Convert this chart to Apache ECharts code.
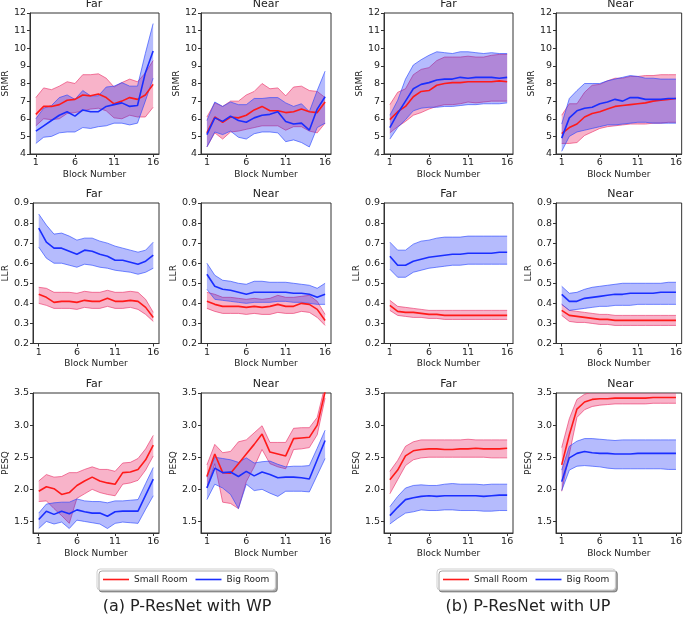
<!DOCTYPE html>
<html>
<head>
<meta charset="utf-8">
<script src="https://cdn.jsdelivr.net/npm/echarts@6/dist/echarts.min.js"></script>
<style>
  html, body { margin: 0; padding: 0; background: #fff; }
  #chart { width: 685px; height: 622px; }
</style>
</head>
<body>
<div id="chart"></div>
<script>
// x positions
const blocks = [1, 2, 3, 4, 5, 6, 7, 8, 9, 10, 11, 12, 13, 14, 15, 16];
const xTicks = [1, 6, 11, 16];
const srmrTicks = [4, 5, 6, 7, 8, 9, 10, 11, 12];
const llrTicks = [0.2, 0.3, 0.4, 0.5, 0.6, 0.7, 0.8, 0.9];
const pesqTicks = [1.5, 2.0, 2.5, 3.0, 3.5];

// ---- (a) WP ----
// SRMR Far
const wpSrmrFarSmall = [6.25, 6.7, 6.7, 6.8, 7.05, 7.1, 7.35, 7.3, 7.4, 7.2, 6.85, 7.0, 7.2, 7.1, 7.35, 7.95];
const wpSrmrFarSmallLo = [5.6, 6.0, 5.95, 6.0, 6.3, 6.35, 6.45, 6.55, 6.6, 6.45, 6.05, 6.0, 6.2, 6.1, 6.1, 6.65];
const wpSrmrFarSmallHi = [7.2, 7.75, 7.65, 7.85, 8.1, 8.0, 8.5, 8.5, 8.55, 8.3, 7.8, 8.05, 8.25, 8.1, 8.6, 9.3];
const wpSrmrFarBig = [5.3, 5.6, 5.9, 6.2, 6.4, 6.15, 6.5, 6.4, 6.4, 6.7, 6.8, 6.9, 6.7, 6.75, 8.6, 9.85];
const wpSrmrFarBigLo = [4.6, 4.95, 5.0, 5.2, 5.25, 5.25, 5.5, 5.45, 5.55, 5.6, 5.75, 5.75, 5.65, 5.75, 7.0, 8.3];
const wpSrmrFarBigHi = [6.0, 6.6, 6.75, 7.2, 7.35, 7.1, 7.6, 7.3, 7.3, 7.8, 7.85, 8.05, 7.85, 7.85, 9.7, 11.4];
// SRMR Near
const wpSrmrNearSmall = [5.2, 6.1, 5.8, 6.1, 6.05, 6.2, 6.5, 6.7, 6.45, 6.45, 6.35, 6.4, 6.55, 6.4, 6.35, 6.95];
const wpSrmrNearSmallLo = [4.4, 5.2, 4.85, 5.25, 5.3, 5.4, 5.5, 5.6, 5.6, 5.6, 5.35, 5.55, 5.55, 5.3, 5.2, 5.75];
const wpSrmrNearSmallHi = [6.1, 6.9, 6.7, 7.0, 7.0, 7.35, 7.55, 8.0, 7.7, 7.75, 7.3, 7.8, 7.85, 7.6, 7.55, 7.2];
const wpSrmrNearBig = [5.1, 6.05, 5.85, 6.15, 5.9, 5.8, 6.05, 6.2, 6.25, 6.4, 5.85, 5.7, 5.75, 5.35, 6.55, 7.25];
const wpSrmrNearBigLo = [4.4, 5.25, 5.1, 5.3, 4.95, 4.85, 5.15, 5.25, 5.25, 5.2, 4.7, 4.8, 4.65, 4.4, 5.5, 5.75];
const wpSrmrNearBigHi = [5.9, 6.95, 6.7, 6.95, 6.8, 6.8, 7.15, 7.15, 7.2, 7.2, 6.9, 6.7, 6.85, 6.4, 7.6, 8.7];
// LLR Far
const wpLlrFarSmall = [0.445, 0.43, 0.405, 0.41, 0.41, 0.405, 0.415, 0.41, 0.41, 0.425, 0.41, 0.41, 0.415, 0.41, 0.38, 0.33];
const wpLlrFarSmallLo = [0.40, 0.39, 0.375, 0.375, 0.375, 0.37, 0.38, 0.375, 0.375, 0.385, 0.375, 0.375, 0.38, 0.37, 0.345, 0.31];
const wpLlrFarSmallHi = [0.48, 0.475, 0.455, 0.455, 0.455, 0.45, 0.46, 0.455, 0.455, 0.465, 0.455, 0.455, 0.46, 0.455, 0.42, 0.355];
const wpLlrFarBig = [0.775, 0.705, 0.675, 0.675, 0.66, 0.645, 0.665, 0.66, 0.645, 0.635, 0.615, 0.615, 0.605, 0.595, 0.61, 0.64];
const wpLlrFarBigLo = [0.68, 0.625, 0.60, 0.60, 0.59, 0.58, 0.595, 0.59, 0.58, 0.575, 0.565, 0.56, 0.555, 0.545, 0.555, 0.575];
const wpLlrFarBigHi = [0.845, 0.79, 0.745, 0.75, 0.735, 0.715, 0.725, 0.725, 0.71, 0.70, 0.685, 0.675, 0.665, 0.655, 0.665, 0.705];
// LLR Near
const wpLlrNearSmall = [0.41, 0.395, 0.385, 0.385, 0.385, 0.38, 0.385, 0.38, 0.385, 0.395, 0.385, 0.385, 0.40, 0.395, 0.37, 0.315];
const wpLlrNearSmallLo = [0.375, 0.36, 0.35, 0.35, 0.35, 0.345, 0.35, 0.345, 0.345, 0.355, 0.35, 0.35, 0.36, 0.355, 0.33, 0.29];
const wpLlrNearSmallHi = [0.455, 0.445, 0.43, 0.43, 0.425, 0.42, 0.425, 0.42, 0.425, 0.44, 0.43, 0.43, 0.435, 0.44, 0.41, 0.345];
const wpLlrNearBig = [0.545, 0.485, 0.47, 0.465, 0.455, 0.445, 0.455, 0.455, 0.455, 0.455, 0.455, 0.45, 0.45, 0.445, 0.43, 0.445];
const wpLlrNearBigLo = [0.47, 0.42, 0.415, 0.41, 0.405, 0.40, 0.405, 0.405, 0.405, 0.41, 0.41, 0.405, 0.405, 0.40, 0.395, 0.395];
const wpLlrNearBigHi = [0.60, 0.54, 0.515, 0.51, 0.50, 0.495, 0.51, 0.51, 0.505, 0.505, 0.505, 0.50, 0.495, 0.49, 0.475, 0.50];
// PESQ Far
const wpPesqFarSmall = [1.97, 2.04, 2.01, 1.92, 1.95, 2.06, 2.13, 2.19, 2.13, 2.10, 2.08, 2.26, 2.27, 2.31, 2.46, 2.69];
const wpPesqFarSmallLo = [1.81, 1.82, 1.70, 1.59, 1.47, 1.86, 1.93, 2.00, 1.95, 1.92, 1.90, 2.08, 2.10, 2.14, 2.30, 2.52];
const wpPesqFarSmallHi = [2.13, 2.23, 2.19, 2.20, 2.26, 2.26, 2.31, 2.35, 2.31, 2.31, 2.28, 2.41, 2.42, 2.48, 2.63, 2.84];
const wpPesqFarBig = [1.53, 1.66, 1.61, 1.66, 1.62, 1.68, 1.65, 1.63, 1.63, 1.58, 1.65, 1.66, 1.66, 1.66, 1.91, 2.16];
const wpPesqFarBigLo = [1.39, 1.50, 1.46, 1.49, 1.39, 1.52, 1.50, 1.48, 1.46, 1.39, 1.47, 1.49, 1.48, 1.47, 1.69, 1.90];
const wpPesqFarBigHi = [1.63, 1.77, 1.79, 1.80, 1.80, 1.85, 1.82, 1.81, 1.81, 1.79, 1.82, 1.82, 1.83, 1.84, 2.09, 2.34];
// PESQ Near
const wpPesqNearSmall = [2.20, 2.55, 2.26, 2.25, 2.40, 2.55, 2.70, 2.86, 2.58, 2.55, 2.52, 2.79, 2.80, 2.81, 3.00, 3.52];
const wpPesqNearSmallLo = [2.03, 2.40, 1.80, 1.78, 1.70, 2.12, 2.35, 2.62, 2.40, 2.35, 2.32, 2.62, 2.63, 2.65, 2.85, 3.42];
const wpPesqNearSmallHi = [2.38, 2.70, 2.57, 2.59, 2.74, 2.77, 2.88, 2.99, 2.73, 2.73, 2.73, 2.95, 2.96, 2.96, 3.12, 3.62];
const wpPesqNearBig = [2.02, 2.33, 2.26, 2.27, 2.20, 2.28, 2.21, 2.27, 2.23, 2.18, 2.19, 2.19, 2.18, 2.16, 2.46, 2.76];
const wpPesqNearBigLo = [1.84, 2.08, 2.02, 1.92, 1.70, 2.08, 1.98, 2.00, 1.94, 1.89, 1.97, 1.97, 1.97, 1.96, 2.22, 2.48];
const wpPesqNearBigHi = [2.19, 2.50, 2.48, 2.46, 2.42, 2.49, 2.41, 2.43, 2.44, 2.39, 2.35, 2.36, 2.36, 2.37, 2.64, 2.92];

// ---- (b) UP ----
// SRMR Far
const upSrmrFarSmall = [5.95, 6.4, 6.7, 7.25, 7.55, 7.6, 7.9, 8.0, 8.05, 8.05, 8.1, 8.1, 8.1, 8.1, 8.15, 8.1];
const upSrmrFarSmallLo = [5.2, 5.55, 5.85, 6.2, 6.35, 6.55, 6.7, 6.8, 6.8, 6.85, 6.95, 6.9, 6.95, 7.0, 7.0, 7.0];
const upSrmrFarSmallHi = [6.8, 7.5, 7.7, 8.5, 8.8, 8.9, 9.3, 9.5, 9.5, 9.5, 9.55, 9.5, 9.5, 9.6, 9.65, 9.65];
const upSrmrFarBig = [5.5, 6.3, 7.0, 7.7, 7.95, 8.05, 8.2, 8.25, 8.25, 8.35, 8.3, 8.35, 8.35, 8.35, 8.3, 8.35];
const upSrmrFarBigLo = [4.85, 5.5, 5.95, 6.45, 6.6, 6.65, 6.65, 6.7, 6.7, 6.75, 6.8, 6.8, 6.85, 6.85, 6.85, 6.9];
const upSrmrFarBigHi = [6.2, 7.05, 8.25, 9.05, 9.35, 9.6, 9.8, 9.75, 9.7, 9.8, 9.8, 9.75, 9.7, 9.75, 9.7, 9.7];
// SRMR Near
const upSrmrNearSmall = [5.15, 5.5, 5.7, 6.1, 6.3, 6.4, 6.55, 6.7, 6.75, 6.8, 6.85, 6.9, 7.0, 7.05, 7.1, 7.15];
const upSrmrNearSmallLo = [4.6, 4.6, 4.65, 5.05, 5.25, 5.45, 5.55, 5.6, 5.65, 5.7, 5.7, 5.7, 5.75, 5.75, 5.8, 5.8];
const upSrmrNearSmallHi = [6.2, 6.85, 6.85, 7.5, 7.9, 7.95, 8.15, 8.3, 8.3, 8.4, 8.4, 8.45, 8.45, 8.5, 8.5, 8.5];
const upSrmrNearBig = [4.9, 6.05, 6.45, 6.6, 6.65, 6.85, 6.95, 7.1, 7.0, 7.2, 7.2, 7.1, 7.1, 7.1, 7.15, 7.15];
const upSrmrNearBigLo = [4.15, 5.0, 5.25, 5.35, 5.45, 5.55, 5.65, 5.65, 5.7, 5.75, 5.8, 5.8, 5.75, 5.75, 5.75, 5.75];
const upSrmrNearBigHi = [5.7, 7.15, 7.6, 8.0, 8.0, 8.0, 8.15, 8.25, 8.35, 8.45, 8.4, 8.3, 8.3, 8.25, 8.25, 8.25];
// LLR Far
const upLlrFarSmall = [0.39, 0.36, 0.355, 0.355, 0.35, 0.345, 0.345, 0.34, 0.34, 0.34, 0.34, 0.34, 0.34, 0.34, 0.34, 0.34];
const upLlrFarSmallLo = [0.365, 0.34, 0.335, 0.33, 0.33, 0.325, 0.325, 0.32, 0.32, 0.32, 0.32, 0.32, 0.32, 0.32, 0.32, 0.32];
const upLlrFarSmallHi = [0.415, 0.385, 0.38, 0.375, 0.37, 0.365, 0.365, 0.365, 0.365, 0.365, 0.365, 0.365, 0.365, 0.365, 0.365, 0.365];
const upLlrFarBig = [0.635, 0.59, 0.59, 0.61, 0.62, 0.63, 0.635, 0.64, 0.645, 0.645, 0.65, 0.65, 0.65, 0.65, 0.655, 0.655];
const upLlrFarBigLo = [0.57, 0.53, 0.53, 0.555, 0.565, 0.575, 0.58, 0.585, 0.59, 0.59, 0.595, 0.595, 0.595, 0.595, 0.595, 0.595];
const upLlrFarBigHi = [0.705, 0.665, 0.665, 0.695, 0.71, 0.715, 0.725, 0.73, 0.73, 0.73, 0.735, 0.735, 0.735, 0.735, 0.735, 0.735];
// LLR Near
const upLlrNearSmall = [0.365, 0.34, 0.335, 0.33, 0.325, 0.32, 0.32, 0.315, 0.315, 0.315, 0.315, 0.315, 0.315, 0.315, 0.315, 0.315];
const upLlrNearSmallLo = [0.34, 0.31, 0.305, 0.305, 0.30, 0.295, 0.295, 0.29, 0.29, 0.29, 0.29, 0.29, 0.29, 0.29, 0.29, 0.29];
const upLlrNearSmallHi = [0.395, 0.365, 0.36, 0.355, 0.35, 0.345, 0.345, 0.34, 0.34, 0.34, 0.34, 0.34, 0.34, 0.34, 0.34, 0.34];
const upLlrNearBig = [0.445, 0.41, 0.41, 0.425, 0.43, 0.435, 0.44, 0.445, 0.445, 0.45, 0.45, 0.45, 0.45, 0.455, 0.455, 0.455];
const upLlrNearBigLo = [0.395, 0.365, 0.37, 0.375, 0.38, 0.385, 0.385, 0.39, 0.39, 0.39, 0.395, 0.395, 0.395, 0.395, 0.395, 0.395];
const upLlrNearBigHi = [0.485, 0.45, 0.455, 0.47, 0.48, 0.485, 0.49, 0.495, 0.50, 0.50, 0.50, 0.50, 0.50, 0.50, 0.505, 0.505];
// PESQ Far
const upPesqFarSmall = [2.15, 2.30, 2.52, 2.60, 2.62, 2.63, 2.63, 2.62, 2.62, 2.63, 2.63, 2.64, 2.63, 2.63, 2.63, 2.64];
const upPesqFarSmallLo = [1.93, 2.15, 2.37, 2.46, 2.49, 2.50, 2.50, 2.50, 2.50, 2.50, 2.50, 2.50, 2.50, 2.49, 2.49, 2.49];
const upPesqFarSmallHi = [2.28, 2.45, 2.67, 2.74, 2.77, 2.77, 2.77, 2.77, 2.77, 2.77, 2.78, 2.77, 2.77, 2.77, 2.77, 2.77];
const upPesqFarBig = [1.59, 1.72, 1.84, 1.87, 1.89, 1.90, 1.89, 1.90, 1.90, 1.90, 1.90, 1.90, 1.89, 1.90, 1.91, 1.91];
const upPesqFarBigLo = [1.46, 1.55, 1.63, 1.65, 1.68, 1.67, 1.67, 1.68, 1.68, 1.67, 1.67, 1.67, 1.66, 1.66, 1.67, 1.67];
const upPesqFarBigHi = [1.73, 1.89, 2.02, 2.06, 2.07, 2.06, 2.06, 2.08, 2.09, 2.08, 2.08, 2.08, 2.07, 2.08, 2.08, 2.08];
// PESQ Near
const upPesqNearSmall = [2.38, 2.85, 3.25, 3.36, 3.40, 3.41, 3.41, 3.42, 3.42, 3.42, 3.42, 3.42, 3.43, 3.43, 3.43, 3.43];
const upPesqNearSmallLo = [1.97, 2.55, 3.12, 3.24, 3.29, 3.31, 3.32, 3.33, 3.33, 3.33, 3.33, 3.33, 3.34, 3.34, 3.34, 3.34];
const upPesqNearSmallHi = [2.65, 3.10, 3.40, 3.48, 3.52, 3.53, 3.53, 3.53, 3.53, 3.53, 3.53, 3.53, 3.53, 3.53, 3.53, 3.53];
const upPesqNearBig = [2.12, 2.49, 2.56, 2.59, 2.57, 2.56, 2.56, 2.55, 2.55, 2.55, 2.56, 2.56, 2.56, 2.56, 2.56, 2.56];
const upPesqNearBigLo = [1.98, 2.30, 2.36, 2.37, 2.36, 2.35, 2.33, 2.32, 2.32, 2.32, 2.32, 2.32, 2.32, 2.32, 2.31, 2.31];
const upPesqNearBigHi = [2.30, 2.67, 2.75, 2.79, 2.79, 2.78, 2.77, 2.76, 2.77, 2.77, 2.77, 2.77, 2.77, 2.77, 2.77, 2.77];

const FONT = '"DejaVu Sans", sans-serif';
const RED = '#ff1a1a', BLUE = '#1a2eff';
const RED_FILL = 'rgba(235,45,105,0.36)', BLUE_FILL = 'rgba(25,45,250,0.32)';
const RED_EDGE = 'rgba(235,50,105,0.7)', BLUE_EDGE = 'rgba(40,70,255,0.7)';

const colLeft = [29, 201, 384, 556];
const colWidth = [130, 130, 129, 129];
const rowTop = [13, 203, 393];
const rowHeight = [141, 140.5, 140];

const rows = [
  { name: 'SRMR', min: 4, max: 12, ticks: srmrTicks, fmt: v => String(v) },
  { name: 'LLR', min: 0.2, max: 0.9, ticks: llrTicks, fmt: v => v.toFixed(1) },
  { name: 'PESQ', min: 1.32, max: 3.5, ticks: pesqTicks, fmt: v => v.toFixed(1) }
];

// panel order: row by row, cols: WP Far, WP Near, UP Far, UP Near
const panels = [
  [wpSrmrFarSmall, wpSrmrFarSmallLo, wpSrmrFarSmallHi, wpSrmrFarBig, wpSrmrFarBigLo, wpSrmrFarBigHi],
  [wpSrmrNearSmall, wpSrmrNearSmallLo, wpSrmrNearSmallHi, wpSrmrNearBig, wpSrmrNearBigLo, wpSrmrNearBigHi],
  [upSrmrFarSmall, upSrmrFarSmallLo, upSrmrFarSmallHi, upSrmrFarBig, upSrmrFarBigLo, upSrmrFarBigHi],
  [upSrmrNearSmall, upSrmrNearSmallLo, upSrmrNearSmallHi, upSrmrNearBig, upSrmrNearBigLo, upSrmrNearBigHi],
  [wpLlrFarSmall, wpLlrFarSmallLo, wpLlrFarSmallHi, wpLlrFarBig, wpLlrFarBigLo, wpLlrFarBigHi],
  [wpLlrNearSmall, wpLlrNearSmallLo, wpLlrNearSmallHi, wpLlrNearBig, wpLlrNearBigLo, wpLlrNearBigHi],
  [upLlrFarSmall, upLlrFarSmallLo, upLlrFarSmallHi, upLlrFarBig, upLlrFarBigLo, upLlrFarBigHi],
  [upLlrNearSmall, upLlrNearSmallLo, upLlrNearSmallHi, upLlrNearBig, upLlrNearBigLo, upLlrNearBigHi],
  [wpPesqFarSmall, wpPesqFarSmallLo, wpPesqFarSmallHi, wpPesqFarBig, wpPesqFarBigLo, wpPesqFarBigHi],
  [wpPesqNearSmall, wpPesqNearSmallLo, wpPesqNearSmallHi, wpPesqNearBig, wpPesqNearBigLo, wpPesqNearBigHi],
  [upPesqFarSmall, upPesqFarSmallLo, upPesqFarSmallHi, upPesqFarBig, upPesqFarBigLo, upPesqFarBigHi],
  [upPesqNearSmall, upPesqNearSmallLo, upPesqNearSmallHi, upPesqNearBig, upPesqNearBigLo, upPesqNearBigHi]
];
const panelTitles = ['Far', 'Near', 'Far', 'Near'];

const grids = [], xAxes = [], yAxes = [], series = [], graphics = [];
const pairs = arr => blocks.map((b, k) => [b, arr[k]]);

// band drawn as one polygon through the axis scales (api.coord)
function bandSeries(i, lo, hi, fill, edge) {
  return {
    type: 'custom', xAxisIndex: i, yAxisIndex: i, silent: true, clip: true, z: 2,
    encode: { x: 0, y: [1, 2] },
    data: blocks.map((b, k) => [b, lo[k], hi[k]]),
    renderItem: function (params, api) {
      if (params.dataIndex !== 0) return null;
      const top = blocks.map((b, k) => api.coord([b, hi[k]]));
      const bot = blocks.map((b, k) => api.coord([b, lo[k]]));
      return {
        type: 'group',
        children: [
          { type: 'polygon', shape: { points: top.concat(bot.slice().reverse()) }, style: { fill: fill, stroke: null } },
          { type: 'polyline', shape: { points: top }, style: { fill: null, stroke: edge, lineWidth: 0.9 } },
          { type: 'polyline', shape: { points: bot }, style: { fill: null, stroke: edge, lineWidth: 0.9 } }
        ]
      };
    }
  };
}

panels.forEach((p, i) => {
  const r = Math.floor(i / 4), c = i % 4;
  const row = rows[r];
  grids.push({
    left: colLeft[c], top: rowTop[r], width: colWidth[c], height: rowHeight[r],
    show: true, borderColor: '#333', borderWidth: 1, backgroundColor: 'transparent'
  });
  xAxes.push({
    gridIndex: i, type: 'value', min: 0.25, max: 16.75,
    splitLine: { show: false },
    axisLine: { show: true, lineStyle: { color: '#333', width: 1 } },
    axisTick: { show: true, length: 3, lineStyle: { color: '#333' }, customValues: xTicks },
    axisLabel: { customValues: xTicks, fontSize: 9.5, color: '#222', margin: 4, fontFamily: FONT },
    name: 'Block Number', nameLocation: 'middle', nameGap: 16,
    nameTextStyle: { fontSize: 9, color: '#222', fontFamily: FONT }
  });
  yAxes.push({
    gridIndex: i, type: 'value', min: row.min, max: row.max,
    splitLine: { show: false },
    axisLine: { show: true, lineStyle: { color: '#333', width: 1 } },
    axisTick: { show: true, length: 3, lineStyle: { color: '#333' }, customValues: row.ticks },
    axisLabel: { customValues: row.ticks, formatter: row.fmt, fontSize: 9.5, color: '#222', margin: 4, fontFamily: FONT },
    name: row.name, nameLocation: 'middle', nameGap: 19,
    nameTextStyle: { fontSize: 9, color: '#222', fontFamily: FONT }
  });

  series.push(bandSeries(i, p[1], p[2], RED_FILL, RED_EDGE));
  series.push(bandSeries(i, p[4], p[5], BLUE_FILL, BLUE_EDGE));
  series.push({
    type: 'line', name: 'Small Room', xAxisIndex: i, yAxisIndex: i, data: pairs(p[0]),
    symbol: 'none', z: 4, color: RED, lineStyle: { color: RED, width: 1.6 }
  });
  series.push({
    type: 'line', name: 'Big Room', xAxisIndex: i, yAxisIndex: i, data: pairs(p[3]),
    symbol: 'none', z: 4, color: BLUE, lineStyle: { color: BLUE, width: 1.6 }
  });

  const titleY = [4.5, 194, 384.5][r];
  graphics.push({
    type: 'text', x: colLeft[c] + colWidth[c] / 2, y: titleY,
    style: { text: panelTitles[c], fill: '#222', font: '11px ' + FONT, textAlign: 'center', textVerticalAlign: 'middle' }
  });
});

graphics.push({
  type: 'text', x: 187, y: 607,
  style: { text: '(a) P-ResNet with WP', fill: '#222', font: '16px ' + FONT, textAlign: 'center', textVerticalAlign: 'middle' }
});
graphics.push({
  type: 'text', x: 528, y: 607,
  style: { text: '(b) P-ResNet with UP', fill: '#222', font: '16px ' + FONT, textAlign: 'center', textVerticalAlign: 'middle' }
});

function makeLegend(left) {
  return {
    data: ['Small Room', 'Big Room'], left: left, top: 569,
    padding: [6, 6], itemGap: 8, itemWidth: 26, itemHeight: 1.6, icon: 'rect',
    textStyle: { fontSize: 9, color: '#222', fontFamily: FONT },
    backgroundColor: '#fff', borderColor: '#cfcfcf', borderWidth: 1, borderRadius: 3,
    shadowColor: 'rgba(0,0,0,0.35)', shadowOffsetX: 2, shadowOffsetY: 2, shadowBlur: 0,
    selectedMode: false
  };
}

const chart = echarts.init(document.getElementById('chart'), null, { renderer: 'canvas' });
chart.setOption({
  animation: false,
  backgroundColor: '#fff',
  textStyle: { fontFamily: FONT },
  grid: grids,
  xAxis: xAxes,
  yAxis: yAxes,
  legend: [makeLegend(97), makeLegend(437)],
  graphic: graphics,
  series: series
});
</script>
</body>
</html>
